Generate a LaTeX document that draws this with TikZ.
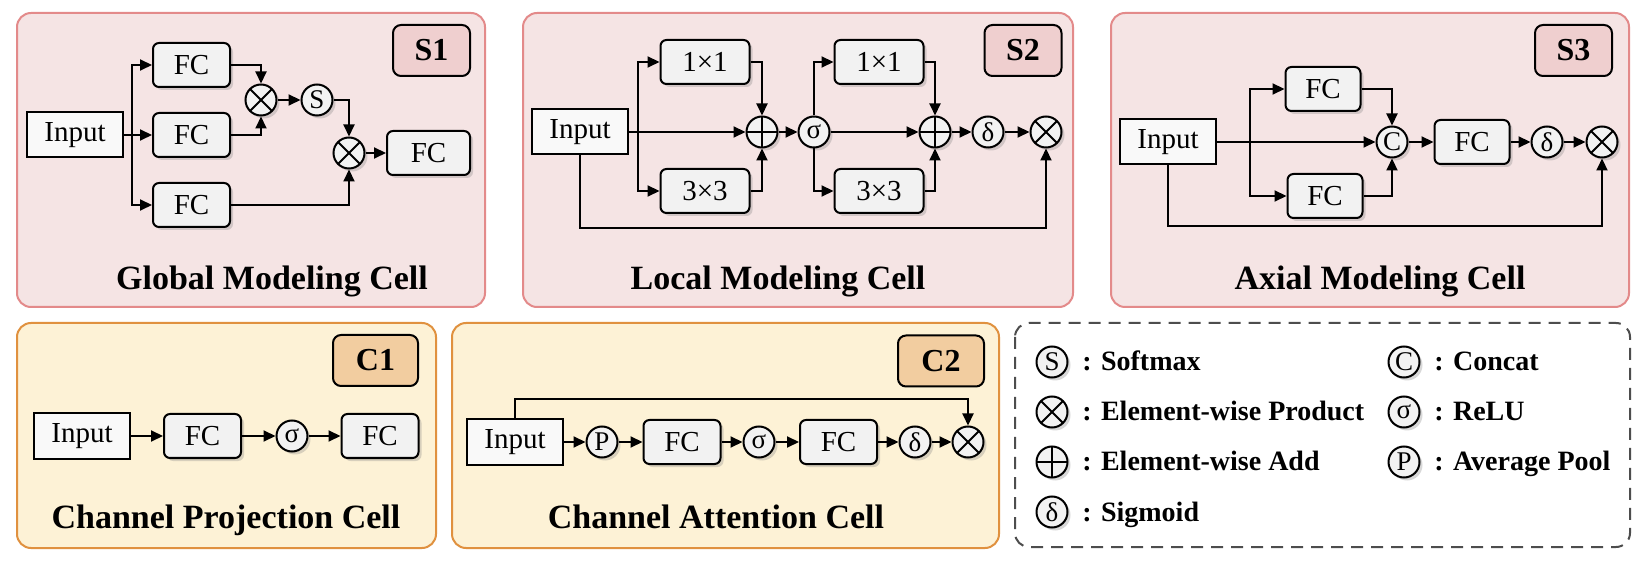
\documentclass[tikz,border=0pt]{standalone}
\usepackage{fontspec}
\setmainfont{Liberation Serif}
\usetikzlibrary{arrows.meta,shadows}
\definecolor{spanelfill}{HTML}{F5E4E4}
\definecolor{spanelline}{HTML}{E38A8A}
\definecolor{stagfill}{HTML}{EFCFCF}
\definecolor{cpanelfill}{HTML}{FDF2D6}
\definecolor{cpanelline}{HTML}{E0913F}
\definecolor{ctagfill}{HTML}{F2CDA0}
\definecolor{boxfill}{HTML}{F2F2F2}
\definecolor{infill}{HTML}{F9F9F9}
\definecolor{keyline}{HTML}{4D4D4D}

\begin{document}
\begin{tikzpicture}[x=0.5pt,y=-0.5pt,
  panel/.style={line width=1pt,rounded corners=7pt},
  spanel/.style={panel,draw=spanelline,fill=spanelfill},
  cpanel/.style={panel,draw=cpanelline,fill=cpanelfill},
  celltag/.style={draw,line width=1pt,rounded corners=4pt,minimum width=38.5pt,minimum height=25.5pt,inner sep=0pt,font=\fontsize{16}{18}\selectfont\bfseries},
  stag/.style={celltag,fill=stagfill},
  ctag/.style={celltag,fill=ctagfill},
  cellname/.style={anchor=base,inner sep=0pt,font=\fontsize{17}{20}\selectfont\bfseries},
  shade/.style={drop shadow={shadow xshift=1.5pt,shadow yshift=-1.5pt,opacity=.3}},
  inbox/.style={draw,line width=1pt,fill=infill,minimum width=48pt,minimum height=22.5pt,inner sep=0pt,font=\fontsize{14.5}{17}\selectfont},
  fcbox/.style={draw,line width=1pt,fill=boxfill,rounded corners=3pt,minimum width=38.5pt,minimum height=22pt,inner sep=0pt,shade,font=\fontsize{14.5}{17}\selectfont},
  opc/.style={circle,draw,line width=1pt,fill=boxfill,minimum size=15.5pt,inner sep=0pt,shade,font=\fontsize{13.5}{15}\selectfont},
  prodop/.style={opc,path picture={\draw[line width=1pt] (path picture bounding box.north west)--(path picture bounding box.south east) (path picture bounding box.north east)--(path picture bounding box.south west);}},
  addop/.style={opc,path picture={\draw[line width=1pt] (path picture bounding box.north)--(path picture bounding box.south) (path picture bounding box.west)--(path picture bounding box.east);}},
  wire/.style={-{Triangle[length=6pt,width=5.5pt]},line width=1pt},
  keytext/.style={anchor=base west,inner sep=0pt,font=\fontsize{14}{16}\selectfont\bfseries}
]
\fill[white] (0,0) rectangle (1638,566);
\draw[spanel] (17,13) rectangle (485,307);
\draw[spanel] (523,13) rectangle (1073,307);
\draw[spanel] (1111,13) rectangle (1629,307);
\draw[cpanel] (17,323) rectangle (436,548);
\draw[cpanel] (452,323) rectangle (999,548);
\draw[keyline,line width=1pt,dash pattern=on 6pt off 4pt,rounded corners=7pt] (1015,323) rectangle (1630,547);

\node[stag] (gtag) at (431.5,50.5) {S1};
\node[cellname] (gname) at (272,290) {Global Modeling Cell};
\node[inbox] (gin) at (75,135) {Input};
\coordinate (gbr) at (132,135);
\node[fcbox] (gfa) at (191.5,65) {FC};
\node[fcbox] (gfb) at (191.5,135) {FC};
\node[fcbox] (gfc) at (191.5,205) {FC};
\node[prodop] (gm1) at (261,100) {};
\node[opc] (gs) at (317,100) {S};
\node[prodop] (gm2) at (349,153) {};
\node[fcbox,minimum width=41.5pt] (gout) at (428.5,153) {FC};
\draw[wire] (gin)--(gfb);\draw[wire] (gbr)|-(gfa);\draw[wire] (gbr)|-(gfc);
\draw[wire] (gfa)-|(gm1);\draw[wire] (gfb)-|(gm1);\draw[wire] (gm1)--(gs);
\draw[wire] (gs)-|(gm2);\draw[wire] (gfc)-|(gm2);\draw[wire] (gm2)--(gout);

\node[stag] (ltag) at (1023,50.5) {S2};
\node[cellname] (lname) at (778,290) {Local Modeling Cell};
\node[inbox] (lin) at (580,132) {Input};
\coordinate (lbr) at (638,132);
\coordinate (lbot) at (580,228);
\node[fcbox,minimum width=44.5pt] (la1) at (705,62) {1×1};
\node[fcbox,minimum width=44.5pt] (la3) at (705,191) {3×3};
\node[addop] (lp1) at (762,132) {};
\node[opc] (lr) at (814,132) {σ};
\node[fcbox,minimum width=44.5pt] (lb1) at (879,62) {1×1};
\node[fcbox,minimum width=44.5pt] (lb3) at (879,191) {3×3};
\node[addop] (lp2) at (935,132) {};
\node[opc] (ld) at (988,132) {δ};
\node[prodop] (lm) at (1046,132) {};
\draw[wire] (lin)--(lp1);\draw[wire] (lbr)|-(la1);\draw[wire] (lbr)|-(la3);
\draw[wire] (la1)-|(lp1);\draw[wire] (la3)-|(lp1);\draw[wire] (lp1)--(lr);
\draw[wire] (lr)|-(lb1);\draw[wire] (lr)|-(lb3);\draw[wire] (lr)--(lp2);
\draw[wire] (lb1)-|(lp2);\draw[wire] (lb3)-|(lp2);\draw[wire] (lp2)--(ld);\draw[wire] (ld)--(lm);
\draw[wire] (lin)--(lbot)-|(lm);

\node[stag] (atag) at (1573.5,50.5) {S3};
\node[cellname] (aname) at (1380,290) {Axial Modeling Cell};
\node[inbox] (ain) at (1168,142) {Input};
\coordinate (abr) at (1250,142);
\coordinate (abot) at (1168,226);
\node[fcbox,minimum width=37.5pt] (aft) at (1323,89) {FC};
\node[fcbox,minimum width=37.5pt] (afb) at (1325,196) {FC};
\node[opc] (acat) at (1392,142) {C};
\node[fcbox,minimum width=37.5pt] (afc) at (1472,142) {FC};
\node[opc] (ad) at (1547,142) {δ};
\node[prodop] (am) at (1602,142) {};
\draw[wire] (ain)--(acat);\draw[wire] (abr)|-(aft);\draw[wire] (abr)|-(afb);
\draw[wire] (aft)-|(acat);\draw[wire] (afb)-|(acat);\draw[wire] (acat)--(afc);
\draw[wire] (afc)--(ad);\draw[wire] (ad)--(am);\draw[wire] (ain)--(abot)-|(am);

\node[ctag,minimum width=42.5pt] (ptag) at (375.5,360.5) {C1};
\node[cellname] (pname) at (226,528) {Channel Projection Cell};
\node[inbox] (pin) at (82,436) {Input};
\node[fcbox] (pf1) at (202.5,436) {FC};
\node[opc] (pr) at (292,436) {σ};
\node[fcbox] (pf2) at (380,436) {FC};
\draw[wire] (pin)--(pf1);\draw[wire] (pf1)--(pr);\draw[wire] (pr)--(pf2);

\node[ctag,minimum width=43pt] (ctag) at (941,361) {C2};
\node[cellname] (cname) at (716,528) {Channel Attention Cell};
\node[inbox] (cin) at (515,442) {Input};
\coordinate (ctop) at (515,399);
\node[opc] (cp) at (602,442) {P};
\node[fcbox] (cf1) at (682,442) {FC};
\node[opc] (cr) at (759,442) {σ};
\node[fcbox] (cf2) at (838.5,442) {FC};
\node[opc] (cd) at (915,442) {δ};
\node[prodop] (cm) at (968,442) {};
\draw[wire] (cin)--(cp);\draw[wire] (cp)--(cf1);\draw[wire] (cf1)--(cr);\draw[wire] (cr)--(cf2);
\draw[wire] (cf2)--(cd);\draw[wire] (cd)--(cm);\draw[wire] (cin)--(ctop)-|(cm);

\node[opc] (ks) at (1052,362) {S};
\node[keytext] (kst) at (1082,371) {: Softmax};
\node[prodop] (km) at (1052,412) {};
\node[keytext] (kmt) at (1082,421) {: Element-wise Product};
\node[addop] (ka) at (1052,462) {};
\node[keytext] (kat) at (1082,471) {: Element-wise Add};
\node[opc] (kd) at (1052,512) {δ};
\node[keytext] (kdt) at (1082,521) {: Sigmoid};
\node[opc] (kc) at (1404,362) {C};
\node[keytext] (kct) at (1434,371) {: Concat};
\node[opc] (kr) at (1404,412) {σ};
\node[keytext] (krt) at (1434,421) {: ReLU};
\node[opc] (kp) at (1404,462) {P};
\node[keytext] (kpt) at (1434,471) {: Average Pool};
\end{tikzpicture}
\end{document}
